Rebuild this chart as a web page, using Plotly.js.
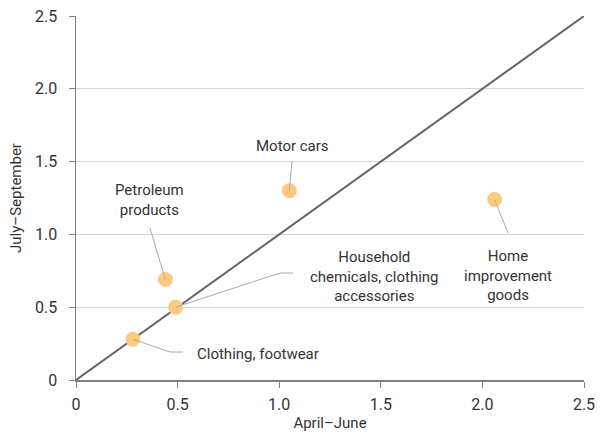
<!DOCTYPE html>
<html>
<head>
<meta charset="utf-8">
<script src="https://cdn.plot.ly/plotly-3.0.1.min.js"></script>
<style>html,body{margin:0;padding:0;background:#fff;}#chart{width:603px;height:437px;}</style>
</head>
<body>
<div id="chart"></div>
<script>
// Data
var categories = ["Clothing, footwear", "Petroleum products", "Household chemicals, clothing accessories", "Motor cars", "Home improvement goods"];
var aprilJune = [0.28, 0.44, 0.49, 1.05, 2.06];
var julySeptember = [0.28, 0.69, 0.50, 1.30, 1.24];
var diagX = [0, 2.5];
var diagY = [0, 2.5];
var tickVals = [0, 0.5, 1.0, 1.5, 2.0, 2.5];
var tickText = ["0", "0.5", "1.0", "1.5", "2.0", "2.5"];

var FONT = "Roboto, 'Open Sans', sans-serif";
var TXT = "#333333";
var LEAD = "#aaaaaa";

var traces = [
  {x: diagX, y: diagY, mode: "lines", line: {color: "#666666", width: 2}, hoverinfo: "skip", showlegend: false},
  {x: aprilJune, y: julySeptember, text: categories, mode: "markers",
   marker: {color: "#fdc97f", size: 15, line: {width: 0}}, showlegend: false}
];

function seg(x0, y0, x1, y1) {
  return {type: "line", xref: "x", yref: "y", x0: x0, y0: y0, x1: x1, y1: y1,
          line: {color: LEAD, width: 1}, layer: "above"};
}

var shapes = [
  seg(0.364, 1.044, aprilJune[1], julySeptember[1]),
  seg(1.063, 1.504, aprilJune[3], julySeptember[3]),
  seg(aprilJune[2], julySeptember[2], 1.004, 0.735),
  seg(1.004, 0.735, 1.068, 0.735),
  seg(aprilJune[4], julySeptember[4], 2.126, 1.010),
  seg(aprilJune[0], julySeptember[0], 0.463, 0.192),
  seg(0.463, 0.192, 0.527, 0.192)
];

function ann(x, y, text, xanchor) {
  return {x: x, y: y, xref: "x", yref: "y", text: text, showarrow: false,
          xanchor: xanchor || "center", yanchor: "middle", align: "center",
          font: {family: FONT, size: 15, color: TXT}};
}

var annotations = [
  ann(0.364, 1.236, "Petroleum<br>products"),
  ann(1.063, 1.607, "Motor cars"),
  ann(1.471, 0.714, "Household<br>chemicals, clothing<br>accessories"),
  ann(2.126, 0.721, "Home<br>improvement<br>goods"),
  ann(0.586, 0.179, "Clothing, footwear", "left")
];

var axisCommon = {
  range: [0, 2.5], tickmode: "array", tickvals: tickVals, ticktext: tickText,
  ticks: "outside", ticklen: 6, tickwidth: 1, tickcolor: "#808080",
  showline: true, linecolor: "#808080", linewidth: 1.5,
  tickfont: {family: FONT, size: 16, color: TXT},
  zeroline: false, fixedrange: true
};

var layout = {
  width: 603, height: 437,
  margin: {l: 76, r: 19, t: 16, b: 57},
  paper_bgcolor: "#ffffff", plot_bgcolor: "#ffffff",
  font: {family: FONT, color: TXT},
  xaxis: Object.assign({}, axisCommon, {
    showgrid: false, ticklabelstandoff: 3,
    title: {text: "April–June", font: {family: FONT, size: 15, color: TXT}, standoff: 5}
  }),
  yaxis: Object.assign({}, axisCommon, {
    showgrid: true, gridcolor: "#d4d4d4", gridwidth: 1, ticklabelstandoff: 8,
    title: {text: "July–September", font: {family: FONT, size: 15, color: TXT}, standoff: 10}
  }),
  shapes: shapes,
  annotations: annotations,
  showlegend: false,
  hovermode: "closest"
};

Plotly.newPlot("chart", traces, layout, {displayModeBar: false, staticPlot: true});
</script>
</body>
</html>
